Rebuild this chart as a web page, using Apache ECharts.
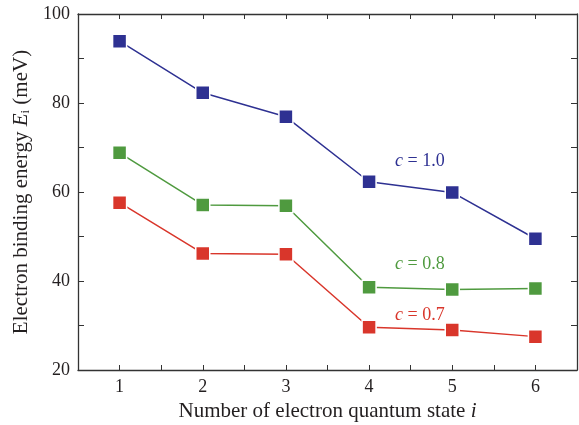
<!DOCTYPE html>
<html>
<head>
<meta charset="utf-8">
<script src="https://cdn.jsdelivr.net/npm/echarts@6/dist/echarts.min.js"></script>
<style>
  html, body { margin: 0; padding: 0; background: #fff; }
  #chart { width: 579px; height: 425px; }
</style>
</head>
<body>
<div id="chart"></div>
<script>
// Quantum state index i
const states = [1, 2, 3, 4, 5, 6];
// Binding energy E_i (meV) for each value of c
const energyC10 = [93.9, 82.3, 76.9, 62.3, 59.9, 49.5];
const energyC08 = [68.8, 57.1, 56.9, 38.6, 38.1, 38.3];
const energyC07 = [57.6, 46.2, 46.0, 29.6, 29.0, 27.5];
const yTicks = [20, 40, 60, 80, 100];
const curveLabels = ['c = 1.0', 'c = 0.8', 'c = 0.7'];
const labelAnchors = [[4.61, 67.0], [4.61, 43.8], [4.61, 32.4]];

const colors = ['#2e3192', '#4f9a3f', '#d9362b'];
const serif = '"Liberation Serif", "DejaVu Serif", serif';
const axisColor = '#333';
const textColor = '#231f20';

function pairs(ys) { return states.map((x, k) => [x, ys[k]]); }

function series(ys, idx) {
  const c = colors[idx];
  return {
    type: 'line',
    data: pairs(ys),
    symbol: 'rect',
    symbolSize: 14,
    lineStyle: { color: c, width: 1.5 },
    itemStyle: { color: c, borderColor: '#fff', borderWidth: 1.5 },
    z: 3,
    markPoint: {
      symbol: 'rect',
      symbolSize: 1,
      itemStyle: { color: 'rgba(0,0,0,0)' },
      label: {
        show: true,
        position: 'inside',
        formatter: () => {
          const parts = curveLabels[idx].split(' ');
          return '{i|' + parts[0] + '}{t| ' + parts.slice(1).join(' ') + '}';
        },
        rich: {
          i: { fontFamily: serif, fontSize: 18, fontStyle: 'italic', color: c },
          t: { fontFamily: serif, fontSize: 18, color: c }
        }
      },
      data: [{ coord: labelAnchors[idx] }]
    }
  };
}

const xCommon = {
  type: 'value', min: 0.5, max: 6.5, interval: 0.5,
  axisLine: { show: true, lineStyle: { color: axisColor, width: 1.3 } },
  axisTick: { show: true, inside: true, length: 5, lineStyle: { color: axisColor, width: 1 } },
  splitLine: { show: false }
};
const yCommon = {
  type: 'value', min: yTicks[0], max: yTicks[yTicks.length - 1], interval: 20,
  axisLine: { show: true, lineStyle: { color: axisColor, width: 1.3 } },
  axisTick: { show: true, inside: true, length: 6, lineStyle: { color: axisColor, width: 1 } },
  minorTick: { show: true, splitNumber: 2, length: 6, lineStyle: { color: axisColor, width: 1 } },
  splitLine: { show: false }
};

const chart = echarts.init(document.getElementById('chart'), null, { renderer: 'canvas' });
chart.setOption({
  animation: false,
  backgroundColor: '#fff',
  grid: { left: 78, right: 2, top: 14, bottom: 55, outerBoundsMode: 'none', containLabel: false },
  xAxis: [
    Object.assign({}, xCommon, {
      position: 'bottom',
      name: '{n|Number of electron quantum state }{e|i}',
      nameLocation: 'middle',
      nameGap: 28,
      nameTextStyle: {
        rich: {
          n: { fontFamily: serif, fontSize: 21, color: textColor },
          e: { fontFamily: serif, fontSize: 21, fontStyle: 'italic', color: textColor }
        }
      },
      axisLabel: {
        margin: 8, fontFamily: serif, fontSize: 18, color: textColor,
        formatter: v => (Number.isInteger(v) && states.includes(v)) ? String(v) : ''
      }
    }),
    Object.assign({}, xCommon, { position: 'top', axisLabel: { show: false } })
  ],
  yAxis: [
    Object.assign({}, yCommon, {
      position: 'left',
      name: '{n|Electron binding energy }{e|E}{s|i}{n| (meV)}',
      nameLocation: 'middle',
      nameRotate: 90,
      nameGap: 42,
      nameTextStyle: {
        rich: {
          n: { fontFamily: serif, fontSize: 21, color: textColor },
          e: { fontFamily: serif, fontSize: 21, fontStyle: 'italic', color: textColor },
          s: { fontFamily: serif, fontSize: 13, color: textColor, verticalAlign: 'bottom', padding: [9, 0, 0, 0] }
        }
      },
      axisLabel: {
        margin: 8, fontFamily: serif, fontSize: 18, color: textColor,
        formatter: v => yTicks.includes(v) ? String(v) : ''
      }
    }),
    Object.assign({}, yCommon, { position: 'right', axisLabel: { show: false } })
  ],
  series: [series(energyC10, 0), series(energyC08, 1), series(energyC07, 2)]
});
</script>
</body>
</html>
